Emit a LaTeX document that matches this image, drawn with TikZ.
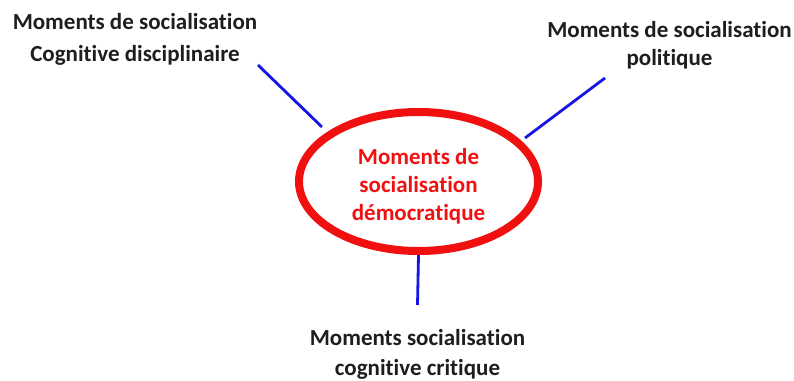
\documentclass[tikz,border=0pt]{standalone}
\usepackage{fontspec}
\setmainfont{Carlito}[Ligatures=NoCommon]
\usetikzlibrary{shapes.geometric}
\definecolor{labelgray}{HTML}{1E1E1E}
\definecolor{connblue}{HTML}{1515E6}
\definecolor{ringred}{HTML}{F01010}
\begin{document}
\begin{tikzpicture}[x=1pt,y=-1pt,
  lbl/.style={align=center,inner sep=0pt,text=labelgray,anchor=north},
  conn/.style={draw=connblue,line width=2.8pt},
  ring/.style={ellipse,draw=ringred,line width=8pt,
    minimum width=239pt,minimum height=139pt,inner sep=0pt},
  ringtext/.style={text=ringred,align=center,inner sep=0pt,
    font=\bfseries\fontsize{23}{28}\selectfont}]
\useasboundingbox (0,0) rectangle (794,380);
\node[ring] (ell) at (418.5,181.5) {};
\node[ringtext] (ctr) at (418.5,186.5) {Moments de\\socialisation\\démocratique};
\node[lbl,font=\bfseries\fontsize{23}{32}\selectfont] (tl) at (135,13) {Moments de socialisation\\Cognitive disciplinaire};
\node[lbl,font=\bfseries\fontsize{23}{28.5}\selectfont] (tr) at (669.5,21) {Moments de socialisation\\politique};
\node[lbl,font=\bfseries\fontsize{23}{30}\selectfont] (bt) at (417.5,329) {Moments socialisation\\cognitive critique};
\coordinate (a1) at (258,65);
\coordinate (a2) at (322,127);
\coordinate (b1) at (605,78);
\coordinate (b2) at (525,138);
\coordinate (c2) at (417.5,305);
\draw[conn] (a1) -- (a2);
\draw[conn] (b1) -- (b2);
\draw[conn] (ell.south) -- (c2);
\end{tikzpicture}
\end{document}
